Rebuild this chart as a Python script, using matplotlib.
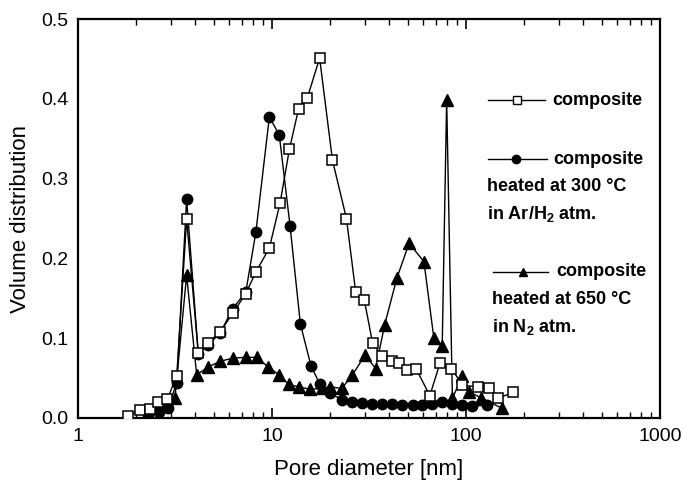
import numpy as np
import matplotlib
matplotlib.use('Agg')
import matplotlib.pyplot as plt
from matplotlib.ticker import FixedLocator, LogLocator, NullFormatter

plt.rcParams.update({'font.family': 'Liberation Sans',
                     'mathtext.fontset': 'custom',
                     'mathtext.rm': 'Liberation Sans',
                     'mathtext.bf': 'Liberation Sans:bold'})

# composite (open squares)
sq_x = [1.82, 2.09, 2.35, 2.59, 2.89, 3.23, 3.63, 4.17, 4.69, 5.40, 6.27,
        7.33, 8.26, 9.69, 11.0, 12.3, 13.7, 15.2, 17.6, 20.5, 24.2, 27.0,
        29.9, 33.0, 36.7, 41.5, 45.2, 49.5, 55.5, 65.1, 73.5, 84.2, 95.9,
        115.6, 132, 147, 175]
sq_y = [0.003, 0.010, 0.011, 0.020, 0.024, 0.053, 0.249, 0.081, 0.094,
        0.108, 0.131, 0.156, 0.183, 0.213, 0.269, 0.337, 0.387, 0.401,
        0.451, 0.323, 0.250, 0.158, 0.148, 0.094, 0.078, 0.071, 0.069,
        0.060, 0.061, 0.028, 0.069, 0.062, 0.041, 0.039, 0.038, 0.025,
        0.032]

# composite heated at 300 C in Ar/H2 (filled circles)
ci_x = [2.3, 2.6, 2.9, 3.23, 3.63, 4.17, 4.69, 5.40, 6.27, 7.33, 8.26,
        9.69, 10.9, 12.4, 14.0, 15.9, 17.6, 19.9, 22.9, 25.7, 29.0, 32.6,
        36.8, 41.4, 46.6, 53.5, 59.1, 66.6, 74.9, 84.4, 95.0, 107, 128]
ci_y = [0.004, 0.008, 0.012, 0.044, 0.274, 0.080, 0.092, 0.106, 0.137,
        0.158, 0.233, 0.377, 0.355, 0.240, 0.118, 0.065, 0.043, 0.031,
        0.023, 0.020, 0.019, 0.018, 0.017, 0.017, 0.016, 0.016, 0.016,
        0.017, 0.020, 0.017, 0.016, 0.015, 0.016]

# composite heated at 650 C in N2 (filled triangles)
tr_x = [2.3, 2.54, 2.75, 3.16, 3.63, 4.09, 4.69, 5.40, 6.27, 7.33, 8.33,
        9.55, 10.9, 12.2, 13.8, 15.7, 18.0, 19.9, 22.9, 26.0, 30.2, 34.2,
        38.1, 44.0, 50.9, 60.7, 68.3, 75.4, 79.5, 85.1, 95.9, 103.6, 120,
        154]
tr_y = [0.006, 0.012, 0.016, 0.025, 0.179, 0.054, 0.064, 0.071, 0.075,
        0.076, 0.076, 0.064, 0.054, 0.042, 0.039, 0.036, 0.037, 0.039,
        0.037, 0.054, 0.079, 0.062, 0.117, 0.175, 0.219, 0.196, 0.100,
        0.090, 0.399, 0.025, 0.052, 0.033, 0.025, 0.012]

x_ticks = [1, 10, 100, 1000]
y_ticks = [0.0, 0.1, 0.2, 0.3, 0.4, 0.5]

fig = plt.figure(figsize=(6.83, 4.84), dpi=100)
ax = fig.add_axes([0.1142, 0.1364, 0.8521, 0.8243])

lw = 1.0
ax.plot(tr_x, tr_y, '-', color='black', lw=lw, marker='^', ms=8,
        mfc='black', mec='black', zorder=2)
ax.plot(ci_x, ci_y, '-', color='black', lw=lw, marker='o', ms=7.5,
        mfc='black', mec='black', zorder=3)
ax.plot(sq_x, sq_y, '-', color='black', lw=lw, marker='s', ms=7,
        mfc='white', mec='black', mew=1.1, zorder=4)

ax.set_xscale('log')
ax.set_xlim(1, 1000)
ax.set_ylim(0, 0.5)
ax.xaxis.set_major_locator(FixedLocator(x_ticks))
ax.set_xticklabels([str(t) for t in x_ticks])
ax.xaxis.set_minor_locator(LogLocator(base=10, subs=np.arange(2, 10)))
ax.xaxis.set_minor_formatter(NullFormatter())
ax.set_yticks(y_ticks)
ax.set_yticklabels(['%.1f' % t for t in y_ticks])

ax.tick_params(axis='x', which='major', direction='in', length=7, width=1.2,
               top=True, labelsize=14, pad=7)
ax.tick_params(axis='x', which='minor', direction='in', length=4, width=1.0,
               top=True)
ax.tick_params(axis='y', length=0, labelsize=14, pad=7)
for sp in ax.spines.values():
    sp.set_linewidth(1.6)

ax.set_xlabel('Pore diameter [nm]', fontsize=16, labelpad=10)
ax.set_ylabel('Volume distribution', fontsize=16, labelpad=7)

# hand-made legend (axes fraction coordinates)
W, H = 582.0, 399.0


def fx(px):
    return (px - 78) / W


def fy(py):
    return (418 - py) / H


tf = ax.transAxes
fs = 13
entries = [
    ('s', 'white', 488, 545, 517, 552, 100, ['composite']),
    ('o', 'black', 488, 547, 516, 553, 159,
     ['composite', 'heated at 300 \u00b0C', r'in Ar/H$_\mathbf{2}$ atm.']),
    ('^', 'black', 493, 548, 523, 556, 272,
     ['composite', 'heated at 650 \u00b0C', r'in N$_\mathbf{2}$ atm.']),
]
for mk, fc, x0, x1, xm, xt, yl, lines in entries:
    ax.plot([fx(x0), fx(x1)], [fy(yl), fy(yl)], '-', color='black', lw=1.0,
            transform=tf, clip_on=False)
    ax.plot([fx(xm)], [fy(yl)], marker=mk, ms=6 if mk != 's' else 5.5,
            mfc=fc, mec='black', mew=1.0, transform=tf, clip_on=False,
            zorder=5)
    ax.text(fx(xt), fy(yl), lines[0], transform=tf, fontsize=fs,
            fontweight='bold', va='center', ha='left')
    for k, s in enumerate(lines[1:]):
        ax.text(fx(x0 - 1), fy(yl + 27.5 * (k + 1)), s, transform=tf,
                fontsize=fs, fontweight='bold', va='center', ha='left')

fig.savefig('out.png', dpi=100)
